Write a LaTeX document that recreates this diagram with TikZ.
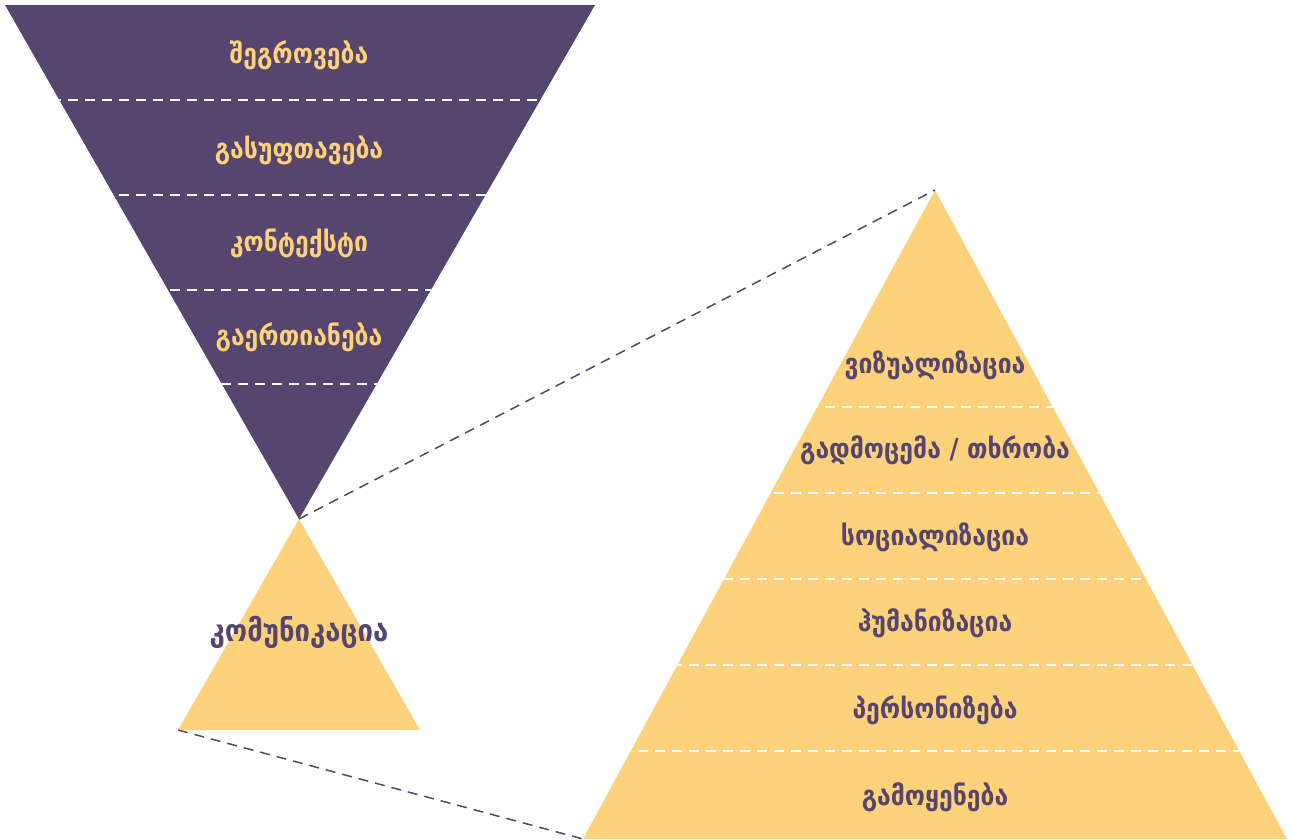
\documentclass[tikz,border=0pt]{standalone}
\usepackage{fontspec}
\newfontfamily\geo{DejaVuSansCondensed-Bold.ttf}
\definecolor{funnelpurple}{HTML}{56456F}
\definecolor{pyryellow}{HTML}{FDD27A}
\begin{document}
\begin{tikzpicture}[x=1pt,y=-1pt,
  sepline/.style={draw=white,line width=1.8pt,dash pattern=on 10pt off 7pt},
  linkline/.style={draw=funnelpurple,line width=1.5pt,dash pattern=on 10pt off 7pt},
  toplabel/.style={font=\geo\fontsize{27.5}{32}\selectfont,text=pyryellow,inner sep=0pt},
  botlabel/.style={font=\geo\fontsize{27.5}{32}\selectfont,text=funnelpurple,inner sep=0pt},
  biglabel/.style={font=\geo\fontsize{30.5}{36}\selectfont,text=funnelpurple,inner sep=0pt}]
\useasboundingbox (0,0) rectangle (1291,839);
% corners
\coordinate (fA) at (5,5);
\coordinate (fB) at (595,5);
\coordinate (fC) at (299,519);
\coordinate (sL) at (178,730);
\coordinate (sR) at (420,730);
\coordinate (pT) at (935,190);
\coordinate (pL) at (583,839);
\coordinate (pR) at (1287,839);
% shapes
\fill[funnelpurple] (fA) -- (fB) -- (fC) -- cycle;
\fill[pyryellow] (fC) -- (sR) -- (sL) -- cycle;
\fill[pyryellow] (pT) -- (pR) -- (pL) -- cycle;
% separators in funnel
\begin{scope}
\clip (fA) -- (fB) -- (fC) -- cycle;
\foreach \yy in {100,195,290,384} \draw[sepline] (0,\yy) -- (600,\yy);
\end{scope}
\begin{scope}
\clip (pT) -- (pR) -- (pL) -- cycle;
\foreach \yy in {407,493,579,665,751} \draw[sepline] (570,\yy) -- (1291,\yy);
\end{scope}
% connectors
\draw[linkline] (fC) -- (pT);
\draw[linkline] (sL) -- (pL);
% labels
\node[toplabel] (t1) at (299,55) {შეგროვება};
\node[toplabel] (t2) at (299,150) {გასუფთავება};
\node[toplabel] (t3) at (299,243) {კონტექსტი};
\node[toplabel] (t4) at (299,337) {გაერთიანება};
\node[biglabel] (c1) at (299,632) {კომუნიკაცია};
\node[botlabel] (p1) at (935,365) {ვიზუალიზაცია};
\node[botlabel] (p2) at (935,450) {გადმოცემა / თხრობა};
\node[botlabel] (p3) at (935,537) {სოციალიზაცია};
\node[botlabel] (p4) at (935,623) {ჰუმანიზაცია};
\node[botlabel] (p5) at (935,710) {პერსონიზება};
\node[botlabel] (p6) at (935,797) {გამოყენება};
\end{tikzpicture}
\end{document}
